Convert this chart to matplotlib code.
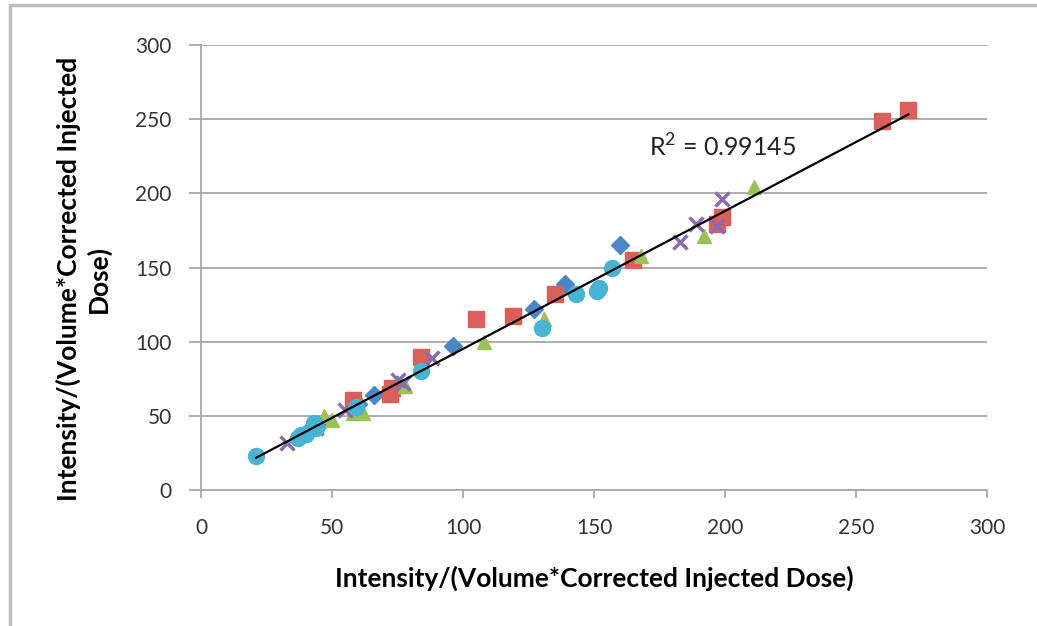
import matplotlib
matplotlib.use('Agg')
import matplotlib.pyplot as plt
import numpy as np
from matplotlib.patches import Rectangle

# series (x, y)
blue_x = [42, 45, 60, 66, 96, 127, 139, 160]
blue_y = [42, 44, 58, 64, 97, 122, 139, 165]

red_x = [58, 72, 73, 84, 105, 119, 135, 165, 197, 199, 260, 270]
red_y = [61, 65, 69, 90, 115, 117, 132, 155, 179, 184, 249, 256]

green_x = [47, 50, 58, 62, 78, 108, 131, 168, 192, 211]
green_y = [50, 47, 52, 52, 70, 100, 115, 158, 171, 204]

purple_x = [33, 44, 55, 75, 77, 88, 183, 189, 197, 199]
purple_y = [32, 42, 54, 74, 72, 89, 167, 179, 178, 196]

cyan_x = [21, 37, 38, 40, 43, 44, 59, 84, 130, 143, 151, 152, 157]
cyan_y = [23, 35, 37, 38, 45, 42, 56, 80, 109, 132, 134, 136, 150]

r2_label = 'R$^2$ = 0.99145'
x_label = 'Intensity/(Volume*Corrected Injected Dose)'
y_label = 'Intensity/(Volume*Corrected Injected\nDose)'

plt.rcParams['font.family'] = ['Lato', 'DejaVu Sans']
plt.rcParams['mathtext.fontset'] = 'custom'
plt.rcParams['mathtext.rm'] = 'Lato'

fig = plt.figure(figsize=(10.37, 6.26), dpi=100)
ax = fig.add_axes([201 / 1037, 136 / 626, 786 / 1037, 445 / 626])

# outer frame (only top and left visible)
fig.add_artist(Rectangle((10 / 1037, -0.2), 1.2, (621 / 626) + 0.2,
                         transform=fig.transFigure, fill=False,
                         edgecolor='#BDBDBD', linewidth=2.5))

series = [
    (blue_x, blue_y, 'D', '#4A86C8', 9.5),
    (red_x, red_y, 's', '#DA5F5A', 11),
    (green_x, green_y, '^', '#9BC158', 10.5),
    (purple_x, purple_y, 'x', '#8A6DB0', 9.5),
    (cyan_x, cyan_y, 'o', '#48B4D4', 11.5),
]
for xs, ys, mk, col, ms in series:
    if mk == 'x':
        ax.plot(xs, ys, linestyle='none', marker=mk, markersize=ms,
                markeredgecolor=col, markeredgewidth=2.5, zorder=3)
    else:
        ax.plot(xs, ys, linestyle='none', marker=mk, markersize=ms,
                markerfacecolor=col, markeredgecolor=col, zorder=3)

# linear trendline over all points
all_x = np.array(blue_x + red_x + green_x + purple_x + cyan_x, dtype=float)
all_y = np.array(blue_y + red_y + green_y + purple_y + cyan_y, dtype=float)
k, b = np.polyfit(all_x, all_y, 1)
tx = np.array([all_x.min(), all_x.max()])
ax.plot(tx, k * tx + b, color='black', linewidth=1.6, zorder=4)
ax.text(171, 231, r2_label, fontsize=18, color='#222222', va='center')

ax.set_xlim(0, 300)
ax.set_ylim(0, 300)
ax.set_xticks(np.arange(0, 301, 50))
ax.set_yticks(np.arange(0, 301, 50))
ax.yaxis.grid(True, color='#A8A8A8', linewidth=1.3)
ax.set_axisbelow(True)
for s in ['top', 'right']:
    ax.spines[s].set_visible(False)
for s in ['left', 'bottom']:
    ax.spines[s].set_color('#A8A8A8')
    ax.spines[s].set_linewidth(1.3)
ax.tick_params(axis='y', length=9, width=1.3, color='#A8A8A8',
               labelsize=15, labelcolor='#333333', pad=12)
ax.tick_params(axis='x', length=6, width=1.3, color='#A8A8A8',
               labelsize=15, labelcolor='#333333', pad=14)

ax.set_xlabel(x_label, fontsize=19, fontweight='bold', labelpad=20)
ax.set_ylabel(y_label, fontsize=19, fontweight='bold', linespacing=1.2)
ax.yaxis.set_label_coords(-0.115, 0.475)

fig.savefig('out.png', dpi=100, facecolor='white')
